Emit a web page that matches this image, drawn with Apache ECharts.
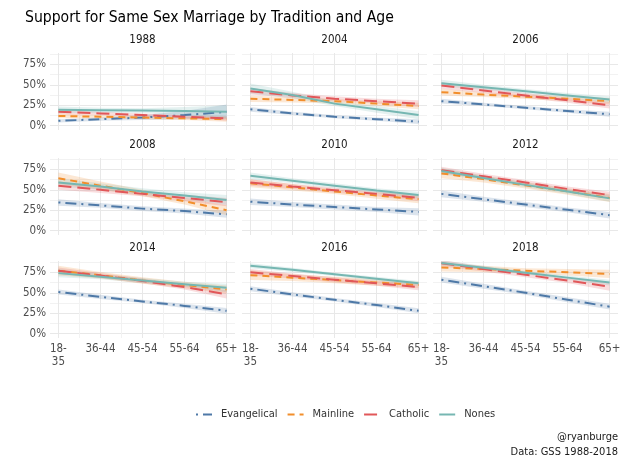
<!DOCTYPE html>
<html><head><meta charset="utf-8">
<script src="https://cdn.jsdelivr.net/npm/echarts@6/dist/echarts.min.js"></script>
<style>html,body{margin:0;padding:0;background:#fff}#c{width:624px;height:464px}</style>
</head><body><div id="c"></div>
<script>
// ---- data (percent supporting) ----
const years = ['1988','2004','2006','2008','2010','2012','2014','2016','2018'];
const ageGroups = ['18-\n35','36-44','45-54','55-64','65+'];
const ageX = [1, 2, 3, 4, 5];
const traditions = ['Evangelical','Mainline','Catholic','Nones'];
const yTickLabels = [0, 25, 50, 75];

const evangelicalFit = [
  [6, 8, 10, 13, 17], [20, 15, 11, 8, 5], [30, 26, 22, 18, 14],
  [34.5, 31, 27, 24, 20], [35.5, 32, 29, 26, 23], [45, 38.5, 32, 25.5, 19],
  [51, 45, 39.5, 34, 28], [55, 48, 41.5, 35, 28], [66, 58, 50, 41.5, 33]
];
const evangelicalCI = [
  [2, 2, 3, 5, 9], [3, 2, 2, 2, 3], [3, 2, 2, 2, 3],
  [4, 3, 3, 3, 4], [4, 3, 3, 3, 4.5], [4, 3, 3, 3, 4],
  [3, 2.5, 2, 2.5, 3.5], [3, 2.5, 2, 2.5, 3], [3.5, 3, 2.5, 3, 3.5]
];
const mainlineFit = [
  [12, 11, 10, 9, 8], [33, 31.5, 30, 27, 24], [41, 38, 35.5, 33, 30],
  [64, 55, 46, 36, 25], [58, 53, 48, 43, 38.5], [70, 63, 55.5, 48, 40],
  [77, 71.5, 65, 59.5, 54], [71.5, 68.5, 65.5, 62.5, 59.5], [81, 79, 77, 75, 73]
];
const mainlineCI = [
  [3, 2, 2, 2, 3], [4, 3, 3, 3, 4], [4, 3, 3, 3, 4],
  [7, 5, 4, 4, 6], [5, 4, 3, 4, 5], [6, 4, 4, 4, 5],
  [6, 4, 4, 4, 5], [6, 4, 4, 4, 4], [5, 4, 3, 4, 5]
];
const catholicFit = [
  [17, 15, 13, 11, 9], [42, 37, 33, 30, 27], [49, 43, 37, 31, 25],
  [55, 50, 45, 40, 35], [59, 54, 49.5, 45, 40], [74, 66.5, 59, 51, 43.5],
  [77, 71, 64.5, 57, 48], [75, 70.5, 66, 61.5, 57], [86, 79, 72, 65, 57.5]
];
const catholicCI = [
  [3, 2, 2, 2, 3], [4, 3, 3, 3, 4], [4, 3, 3, 3, 4],
  [5, 4, 3, 4, 5], [4, 3, 3, 3, 4], [4, 3, 3, 3, 4],
  [4, 3, 3, 3, 5], [4, 3, 3, 3, 4], [4, 3, 3, 3, 5]
];
const nonesFit = [
  [19.5, 19, 18.5, 18, 17], [45.5, 37.5, 27, 20, 13], [52, 47, 42, 37, 32],
  [59, 54, 48, 43, 37.5], [67, 61, 55, 49, 43.5], [73, 64.5, 56, 48, 39.5],
  [74, 69.5, 65, 60.5, 56], [83, 78, 72.5, 67, 61.5], [86.5, 80.5, 74.5, 68.5, 62.5]
];
const nonesCI = [
  [4, 3, 3, 5, 8], [6, 4, 3, 4, 5], [4, 3, 3, 3, 4],
  [5, 4, 4, 4, 6], [4, 3, 3, 3, 4], [4, 3, 3, 3, 4],
  [5, 3, 3, 3, 5], [3, 2.5, 2, 2.5, 3], [3, 2.5, 2, 2.5, 3.5]
];

// ---- styling ----
const FF = "'DejaVu Sans Condensed','Liberation Sans Narrow','Liberation Sans',sans-serif";
const colors = {Evangelical: '#4E79A7', Mainline: '#F28E2B', Catholic: '#E15759', Nones: '#76B7B2'};
const dashes = {Evangelical: [2, 5, 11, 5], Mainline: [7, 5], Catholic: [13, 6], Nones: 'solid'};
const fitsByTrad = {Evangelical: evangelicalFit, Mainline: mainlineFit, Catholic: catholicFit, Nones: nonesFit};
const ciByTrad = {Evangelical: evangelicalCI, Mainline: mainlineCI, Catholic: catholicCI, Nones: nonesCI};

const colLeft = [50, 242, 433];
const rowTop = [53, 158, 261];
const panelW = 185, panelH = 77;
const yMinorTicks = [0, 12.5, 25, 37.5, 50, 62.5, 75, 87.5];
const xMinorTicks = [1, 1.5, 2, 2.5, 3, 3.5, 4, 4.5, 5];
const gridColors = ['#e8e8e8', '#f2f2f2'];

function bandRender(params, api) {
  if (params.dataIndexInside !== 0) return null;
  const n = ageX.length;
  const lo = [], hi = [];
  for (let j = 0; j < n; j++) {
    lo.push(api.coord([api.value(0, j), api.value(1, j)]));
    hi.push(api.coord([api.value(0, j), api.value(2, j)]));
  }
  const pts = lo.concat(hi.reverse());
  return {
    type: 'polygon',
    shape: {points: pts},
    style: {fill: api.visual('color'), opacity: 0.2},
    silent: true
  };
}

const grids = [], xAxes = [], yAxes = [], series = [], graphics = [];
years.forEach((yr, i) => {
  const r = Math.floor(i / 3), c = i % 3;
  grids.push({left: colLeft[c], top: rowTop[r], width: panelW, height: panelH, containLabel: false});
  xAxes.push({
    type: 'value', gridIndex: i, min: 0.8, max: 5.2,
    axisLine: {show: false},
    axisTick: {show: false, customValues: xMinorTicks},
    splitLine: {show: true, interval: 0, lineStyle: {color: gridColors, width: 1}},
    axisLabel: {
      show: r === 2, customValues: ageX, margin: 5,
      color: '#4d4d4d', fontFamily: FF, fontSize: 11.5, lineHeight: 13,
      formatter: v => ageGroups[Math.round(v) - 1] || ''
    }
  });
  yAxes.push({
    type: 'value', gridIndex: i, min: -5.2, max: 88.8,
    axisLine: {show: false},
    axisTick: {show: false, customValues: yMinorTicks},
    splitLine: {show: true, interval: 0, lineStyle: {color: gridColors, width: 1}},
    axisLabel: {
      show: c === 0, customValues: yTickLabels, margin: 4,
      color: '#4d4d4d', fontFamily: FF, fontSize: 11.5,
      formatter: v => v + '%'
    }
  });
  graphics.push({
    type: 'text', x: colLeft[c] + panelW / 2, y: rowTop[r] - 13,
    style: {text: yr, fill: '#1a1a1a', font: '11.5px ' + FF, textAlign: 'center', textVerticalAlign: 'middle'}
  });
  traditions.forEach(t => {
    const fit = fitsByTrad[t][i], ci = ciByTrad[t][i];
    series.push({
      type: 'custom', name: t + ' band', xAxisIndex: i, yAxisIndex: i,
      data: ageX.map((x, j) => [x, fit[j] - ci[j], fit[j] + ci[j]]),
      encode: {x: 0, y: [1, 2]},
      renderItem: bandRender, clip: true, silent: true, z: 1,
      itemStyle: {color: colors[t]}
    });
  });
  traditions.forEach(t => {
    const fit = fitsByTrad[t][i];
    series.push({
      type: 'line', name: t, xAxisIndex: i, yAxisIndex: i,
      data: ageX.map((x, j) => [x, fit[j]]),
      symbol: 'none', smooth: false, z: 3,
      itemStyle: {color: colors[t]},
      lineStyle: {color: colors[t], width: 2, type: dashes[t]}
    });
  });
});

graphics.push({
  type: 'text', x: 618, y: 437,
  style: {text: '@ryanburge', fill: '#1a1a1a', font: '11px ' + FF, textAlign: 'right', textVerticalAlign: 'middle'}
});
graphics.push({
  type: 'text', x: 618, y: 452,
  style: {text: 'Data: GSS 1988-2018', fill: '#1a1a1a', font: '11px ' + FF, textAlign: 'right', textVerticalAlign: 'middle'}
});

const chart = echarts.init(document.getElementById('c'), null, {renderer: 'canvas'});
chart.setOption({
  backgroundColor: '#fff',
  animation: false,
  title: {
    text: 'Support for Same Sex Marriage by Tradition and Age',
    left: 20, top: 5,
    textStyle: {fontFamily: FF, fontSize: 15.6, fontWeight: 'normal', color: '#000'}
  },
  legend: {
    data: traditions, left: 190, top: 404,
    itemWidth: 16, itemHeight: 10, itemGap: 9,
    itemStyle: {opacity: 0},
    textStyle: {fontFamily: FF, fontSize: 11, color: '#333', padding: [0, 0, 0, 4]}
  },
  grid: grids, xAxis: xAxes, yAxis: yAxes, series: series, graphic: graphics
});
</script></body></html>
